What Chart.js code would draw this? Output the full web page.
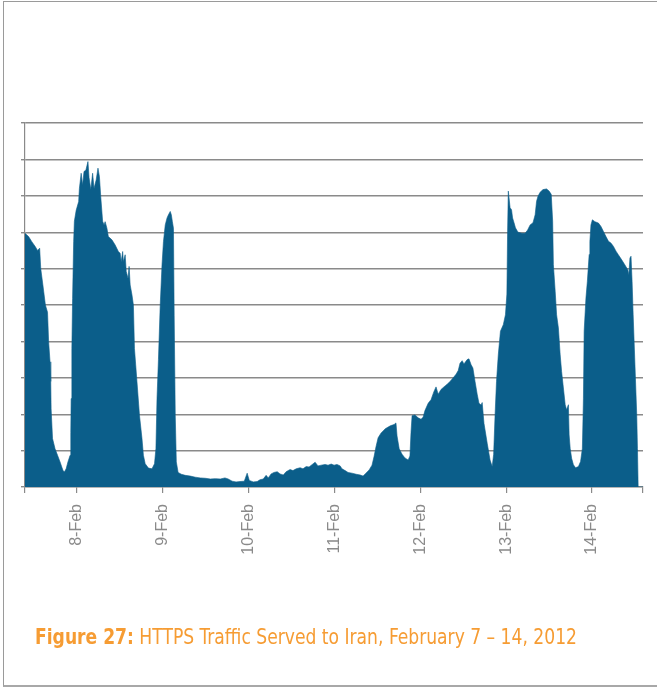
<!DOCTYPE html>
<html><head><meta charset="utf-8">
<script src="https://cdn.jsdelivr.net/npm/chart.js@4.4.0/dist/chart.umd.min.js"></script>
<style>
html,body{margin:0;padding:0;background:#fff;}
#wrap{position:relative;width:657px;height:688px;overflow:hidden;background:#fff;}
#frame{position:absolute;left:3px;top:1px;width:700px;height:686px;border-left:1px solid #9a9a9a;border-top:1px solid #9a9a9a;border-bottom:2px solid #a8a8a8;box-sizing:border-box;}
#c{position:absolute;left:0;top:0;}
#caption{position:absolute;left:35px;top:625px;font-family:"Liberation Sans Narrow","DejaVu Sans Condensed","Roboto",sans-serif;font-size:21px;color:#F69C33;white-space:nowrap;transform-origin:0 0;}
#caption b{font-weight:bold;}
</style></head><body>
<div id="wrap">
<div id="frame"></div>
<canvas id="c" width="657" height="688"></canvas>
<div id="caption"><b>Figure 27:</b> HTTPS Traffic Served to Iran, February 7 – 14, 2012</div>
</div>
<script>
// time in hours since 7-Feb-2012 00:00
const hours = [
9.5,10.5,11.4,12.4,13.0,13.6,13.9,14.5,15.2,15.8,
16.1,16.5,16.7,16.8,17.2,17.9,18.6,19.3,20.1,20.5,
21.0,21.5,22.1,22.3,22.4,22.6,22.8,23.1,23.3,23.8,
24.5,24.7,25.2,25.6,26.0,26.5,27.1,27.4,27.9,28.4,
28.8,29.4,29.9,30.3,30.7,31.2,31.6,31.9,32.4,32.8,
33.8,34.7,35.6,36.1,36.4,36.8,37.0,37.5,37.8,38.3,
38.6,38.9,39.4,39.8,40.1,40.8,41.5,42.2,42.6,43.1,
44.0,45.0,45.7,46.1,46.4,46.8,47.3,47.8,48.2,48.7,
49.2,49.6,50.1,50.4,50.7,51.0,51.2,51.5,51.8,52.3,
53.2,54.3,55.7,57.1,58.5,59.9,61.3,62.7,64.1,65.4,
66.3,67.4,68.5,69.6,70.8,71.6,72.2,73.3,74.4,75.2,
76.1,76.9,77.5,78.3,79.1,80.0,80.8,81.7,82.5,83.6,
84.4,85.3,86.4,87.2,88.1,88.9,89.8,90.6,91.4,92.3,
93.4,94.2,95.1,95.9,96.7,97.6,98.1,99.0,99.8,100.9,
102.1,103.2,104.0,104.8,105.7,106.5,107.1,107.6,108.2,109.0,
110.2,111.6,112.7,113.2,113.5,114.1,114.9,115.7,116.6,117.1,
117.4,117.7,118.5,119.4,120.2,120.8,121.3,122.2,123.0,123.8,
124.4,125.0,125.8,126.6,127.5,128.3,129.2,130.0,130.6,131.1,
131.7,132.2,133.1,133.6,134.2,134.7,135.3,135.9,136.4,137.0,
137.3,137.8,138.7,139.5,140.1,140.5,140.9,141.3,141.8,142.4,
143.2,143.8,144.2,144.4,144.6,145.1,145.5,145.8,146.2,146.6,
147.3,148.4,149.3,150.0,150.7,151.5,152.1,152.5,152.9,153.5,
154.3,155.3,156.0,156.6,157.0,157.2,157.7,158.1,158.6,159.1,
159.5,160.0,160.5,160.9,161.4,161.6,161.9,162.3,162.8,163.4,
164.2,164.8,165.3,165.6,165.8,166.3,166.7,167.2,167.4,167.7,
168.1,168.8,169.8,170.5,171.2,171.9,172.6,173.3,174.0,174.7,
175.3,176.3,177.2,178.0,178.3,178.6,178.9,179.2,179.5,180.0,
180.5,180.7,180.9,182.25
];
// HTTPS traffic (relative units, 0-10 scale)
const traffic = [
6.97,6.88,6.74,6.6,6.5,6.56,6.0,5.55,5.0,4.8,
4.0,3.44,2.9,2.15,1.33,1.05,0.87,0.69,0.46,0.41,
0.5,0.69,0.87,1.5,2.43,3.8,5.18,6.74,7.3,7.6,
7.84,8.2,8.62,8.3,8.67,8.7,8.94,8.5,8.17,8.62,
8.2,8.44,8.76,8.53,7.94,7.3,7.2,7.29,7.11,6.88,
6.79,6.65,6.47,6.42,6.19,6.47,6.19,6.38,5.92,5.73,
6.06,5.55,5.28,5.0,3.8,2.89,1.97,1.33,0.87,0.64,
0.52,0.5,0.64,1.06,2.43,3.5,5.0,6.1,6.74,7.2,
7.39,7.48,7.57,7.48,7.29,7.11,4.72,1.97,0.69,0.4,
0.35,0.32,0.3,0.27,0.25,0.24,0.22,0.23,0.22,0.25,
0.22,0.16,0.14,0.15,0.16,0.38,0.18,0.14,0.15,0.2,
0.22,0.32,0.25,0.36,0.4,0.42,0.36,0.33,0.42,0.48,
0.45,0.5,0.53,0.5,0.56,0.55,0.62,0.68,0.58,0.6,
0.62,0.6,0.63,0.6,0.62,0.58,0.5,0.45,0.4,0.38,
0.35,0.33,0.3,0.38,0.47,0.6,0.85,1.1,1.35,1.48,
1.6,1.68,1.72,1.76,1.4,1.05,0.9,0.8,0.74,0.85,
1.5,1.96,1.98,1.9,1.86,1.92,2.1,2.3,2.4,2.62,
2.75,2.55,2.68,2.75,2.82,2.9,3.0,3.1,3.2,3.4,
3.47,3.38,3.5,3.52,3.36,3.27,2.9,2.55,2.3,2.25,
2.32,1.75,1.2,0.74,0.56,0.9,1.98,2.9,3.63,4.28,
4.46,4.73,5.3,7.03,8.13,7.67,7.62,7.39,7.26,7.12,
7.0,6.97,6.97,7.06,7.2,7.26,7.48,7.85,7.99,8.1,
8.17,8.19,8.13,8.04,7.3,6.11,5.38,4.73,4.37,3.63,
3.17,2.72,2.26,2.12,2.26,1.43,1.06,0.79,0.61,0.53,
0.56,0.7,1.06,2.44,4.28,5.19,5.65,6.39,6.75,7.2,
7.34,7.29,7.25,7.16,7.02,6.88,6.75,6.7,6.61,6.48,
6.39,6.24,6.1,5.97,5.83,6.29,6.34,5.65,4.73,3.36,
1.98,1.06,0,0
];
const tickHours = [24,48,72,96,120,144,168];
const tickLabels = ['8-Feb','9-Feb','10-Feb','11-Feb','12-Feb','13-Feb','14-Feb'];
const xStart = 9.5, xEnd = 182.25;
const yMin = 0, yMax = 10, yStep = 1;

const points = hours.map((h,i)=>({x:h, y:traffic[i]}));
const axisGray = '#8a8a8a';

new Chart(document.getElementById('c'), {
  type: 'line',
  data: { datasets: [{
    data: points,
    fill: 'origin',
    backgroundColor: '#0b5e8a',
    borderColor: '#0b5e8a',
    borderWidth: 0.6,
    pointRadius: 0,
    tension: 0
  }]},
  options: {
    responsive: false,
    animation: false,
    devicePixelRatio: 1,
    layout: { padding: { top: 123, right: 14, left: 0, bottom: 0 } },
    plugins: { legend: { display: false }, tooltip: { enabled: false } },
    scales: {
      x: {
        type: 'linear', min: xStart, max: xEnd,
        afterBuildTicks: s => { s.ticks = [xStart, ...tickHours, xEnd].map(v => ({ value: v })); },
        afterFit: s => { s.height = 688 - 487; s.paddingLeft = 0; s.paddingRight = 0; },
        ticks: {
          autoSkip: false, maxRotation: 90, minRotation: 90, padding: 11,
          color: '#8a8a8a',
          font: { family: '"Liberation Sans", Arial, sans-serif', size: 16 },
          callback: v => { const i = tickHours.indexOf(v); return i >= 0 ? tickLabels[i] : ''; }
        },
        grid: { drawOnChartArea: false, drawTicks: true, tickLength: 6, color: axisGray, lineWidth: 1.2 },
        border: { color: axisGray, width: 1.2 }
      },
      y: {
        min: yMin, max: yMax,
        afterFit: s => { s.width = 25; },
        ticks: { display: false, stepSize: yStep },
        grid: { color: axisGray, tickLength: 4, lineWidth: 1.4 },
        border: { color: axisGray, width: 1.2 }
      }
    }
  }
});

const cap = document.getElementById('caption');
const w = cap.getBoundingClientRect().width;
cap.style.transform = 'scaleX(' + (542 / w) + ')';
</script>
</body></html>
